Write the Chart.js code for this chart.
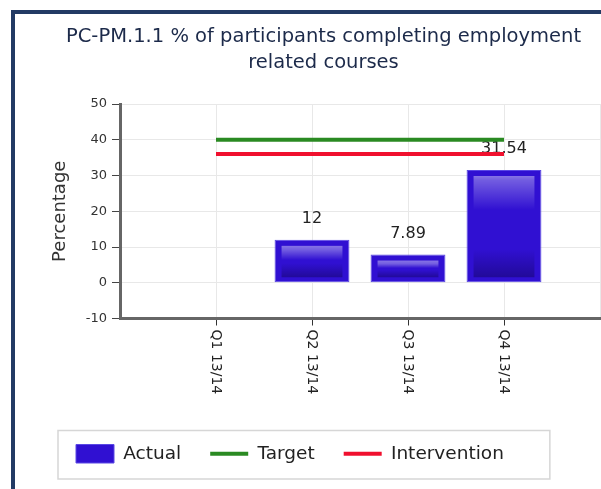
<!DOCTYPE html>
<html>
<head>
<meta charset="utf-8">
<script src="https://cdn.jsdelivr.net/npm/chart.js@4"></script>
<style>
  html, body { margin: 0; padding: 0; background: #fff; overflow: hidden; }
  #frame {
    position: absolute; left: 11px; top: 10px;
    border-left: 4px solid #223a64; border-top: 4px solid #223a64;
    width: 600px; height: 475px;
  }
  canvas { display: block; }
</style>
</head>
<body>
<div id="frame"><canvas id="kpi" width="600" height="475"></canvas></div>
<script>
/* ---- data --------------------------------------------------------------- */
const categories   = ['Q1 13/14', 'Q2 13/14', 'Q3 13/14', 'Q4 13/14'];
const actual       = [null, 12, 7.89, 31.54];
const target       = [40, 40, 40, 40];
const intervention = [36, 36, 36, 36];
const titleLines   = ['PC-PM.1.1 % of participants completing employment', 'related courses'];

const FONT = "'DejaVu Sans', Verdana, sans-serif";
const BAR_BASE = '#3010d2';

/* helper: categories live at x = 1..n on a linear axis 0..n+1 -------------- */
const toPoints = arr => arr.map((v, i) => ({ x: i + 1, y: v }));

/* plugin: glossy inset on each bar + value labels, drawn before the lines -- */
const barDecor = {
  id: 'barDecor',
  afterDatasetDraw(chart, args) {
    if (args.index !== 0) return;
    const { ctx } = chart;
    ctx.save();
    args.meta.data.forEach((bar, i) => {
      if (actual[i] == null) return;
      const { x, y, base, width } = bar.getProps(['x', 'y', 'base', 'width'], true);
      const l = x - width / 2 + 7, r = x + width / 2 - 7;
      const t = y + 6, b = base - 5;
      const h = b - t;
      if (h <= 2) return;
      const g = ctx.createLinearGradient(0, t, 0, b);
      const f = px => Math.min(1, Math.max(0, px / h));
      g.addColorStop(0, 'rgba(255,255,255,0.42)');
      g.addColorStop(f(Math.min(4, h * 0.2)), 'rgba(255,255,255,0.32)');
      g.addColorStop(f(Math.min(34, h * 0.45)), 'rgba(255,255,255,0)');
      g.addColorStop(f(Math.max(h * 0.55, h - 28)), 'rgba(10,0,60,0)');
      g.addColorStop(1, 'rgba(10,0,60,0.38)');
      ctx.fillStyle = g;
      ctx.fillRect(l, t, r - l, h);
    });

    ctx.font = `16px ${FONT}`;
    ctx.fillStyle = '#222';
    ctx.textAlign = 'center';
    ctx.textBaseline = 'bottom';
    args.meta.data.forEach((bar, i) => {
      if (actual[i] == null) return;
      ctx.fillText(String(actual[i]), bar.x, bar.y - 13);
    });
    ctx.restore();
  }
};

/* plugin: x labels rotated +90° (read top to bottom) ----------------------- */
const xLabels = {
  id: 'xLabels',
  afterDraw(chart) {
    const { ctx } = chart;
    const xs = chart.scales.x;
    ctx.save();
    ctx.font = `14px ${FONT}`;
    ctx.fillStyle = '#222';
    ctx.textAlign = 'left';
    ctx.textBaseline = 'middle';
    categories.forEach((lab, i) => {
      ctx.save();
      ctx.translate(xs.getPixelForValue(i + 1), xs.top + 11);
      ctx.rotate(Math.PI / 2);
      ctx.fillText(lab, 0, 0);
      ctx.restore();
    });
    ctx.restore();
  }
};

/* plugin: thin frame round the legend -------------------------------------- */
const legendFrame = {
  id: 'legendFrame',
  afterDraw(chart) {
    const boxes = chart.legend && chart.legend.legendHitBoxes;
    if (!boxes || !boxes.length) return;
    const l = Math.min(...boxes.map(b => b.left)) - 18;
    const r = Math.max(...boxes.map(b => b.left + b.width)) + 46;
    const t = boxes[0].top - 14;
    const b = boxes[0].top + boxes[0].height + 16;
    const { ctx } = chart;
    ctx.save();
    ctx.strokeStyle = '#d6d6d6';
    ctx.lineWidth = 1.5;
    ctx.strokeRect(l, t, r - l, b - t);
    ctx.restore();
  }
};

new Chart(document.getElementById('kpi'), {
  type: 'bar',
  data: {
    datasets: [
      {
        label: 'Actual',
        data: toPoints(actual),
        backgroundColor: BAR_BASE,
        borderColor: '#5a48e4',
        borderWidth: 1,
        borderSkipped: false,
        barPercentage: 0.78,
        categoryPercentage: 1,
        order: 2
      },
      {
        type: 'line',
        label: 'Target',
        data: toPoints(target),
        borderColor: '#2a8a22',
        backgroundColor: '#2a8a22',
        borderWidth: 4,
        pointRadius: 0,
        order: 1
      },
      {
        type: 'line',
        label: 'Intervention',
        data: toPoints(intervention),
        borderColor: '#f0102e',
        backgroundColor: '#f0102e',
        borderWidth: 4,
        pointRadius: 0,
        order: 1
      }
    ]
  },
  options: {
    responsive: false,
    animation: false,
    layout: { padding: { left: 32, right: 15, top: 0, bottom: 16 } },
    plugins: {
      title: {
        display: true,
        text: titleLines,
        color: '#1c2a4a',
        font: { family: FONT, size: 19.5, weight: 'normal', lineHeight: 26 / 19.5 },
        padding: { top: 10, bottom: 28 }
      },
      legend: {
        position: 'bottom',
        align: 'start',
        labels: {
          color: '#222',
          font: { family: FONT, size: 18.5 },
          usePointStyle: true,
          pointStyleWidth: 38,
          boxHeight: 19,
          padding: 29,
          generateLabels: chart => chart.data.datasets.map((ds, i) => ({
            text: ds.label,
            datasetIndex: i,
            fillStyle: i === 0 ? BAR_BASE : ds.borderColor,
            strokeStyle: i === 0 ? '#5a48e4' : ds.borderColor,
            lineWidth: i === 0 ? 1 : 4,
            pointStyle: i === 0 ? 'rect' : 'line',
            fontColor: '#222'
          }))
        }
      },
      tooltip: { enabled: false }
    },
    scales: {
      x: {
        type: 'linear',
        offset: false,
        min: 0,
        max: categories.length + 1,
        ticks: { display: false, stepSize: 1 },
        grid: {
          offset: false,
          color: '#e8e8e8',
          tickLength: 7,
          tickColor: c => (c.tick && c.tick.value >= 1 && c.tick.value <= categories.length) ? '#333' : 'rgba(0,0,0,0)'
        },
        border: { color: '#666', width: 3 },
        afterFit: s => { s.height = 97; }
      },
      y: {
        min: -10,
        max: 50,
        ticks: { stepSize: 10, color: '#333', font: { family: FONT, size: 13 }, padding: 5 },
        grid: { color: '#e8e8e8', tickLength: 8, tickColor: '#444' },
        border: { color: '#666', width: 3 },
        title: {
          display: true,
          text: 'Percentage',
          color: '#333',
          font: { family: FONT, size: 18 },
          padding: { top: 3, bottom: 0 }
        },
        afterFit: s => { s.width = 73; }
      }
    }
  },
  plugins: [barDecor, xLabels, legendFrame]
});
</script>
</body>
</html>
